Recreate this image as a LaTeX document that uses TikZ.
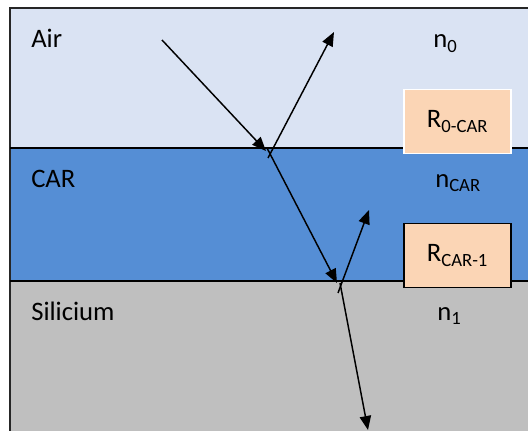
\documentclass[tikz,border=0pt]{standalone}
\usepackage{fontspec}
\setmainfont{Carlito}
\usetikzlibrary{arrows.meta}

\definecolor{airfill}{HTML}{DAE3F3}
\definecolor{carfill}{HTML}{558ED5}
\definecolor{sifill}{HTML}{BFBFBF}
\definecolor{rfill}{HTML}{FBD5B5}

\begin{document}
\begin{tikzpicture}[x=0.75pt,y=0.75pt,yscale=-1,
  layertext/.style={anchor=base west,inner sep=0pt,font=\fontsize{20}{23}\selectfont},
  rbox/.style={fill=rfill,minimum width=80.25pt,minimum height=48pt,inner sep=0pt,line width=1.1pt,font=\fontsize{20}{23}\selectfont},
  ray/.style={line width=1.1pt,-{Triangle[length=10.5pt,width=8.5pt]}},
  border/.style={line width=1.5pt}]
\useasboundingbox (0,0) rectangle (528,431);

%Layers
\fill [airfill] (10,8) rectangle (528,148);
\fill [carfill] (10,148) rectangle (528,281);
\fill [sifill] (10,281) rectangle (528,431);
%Straight Lines
\draw [border,color=black!85] (528,8) -- (10,8) -- (10,431);
%Straight Lines
\draw [border] (10,148) -- (528,148);
%Straight Lines
\draw [border] (10,281) -- (528,281);

% Text Node
\node (air) [layertext] at (31,48) {Air};
% Text Node
\node (car) [layertext] at (31,187) {CAR};
% Text Node
\node (si) [layertext] at (31,320) {Silicium};
% Text Node
\node (nair) [layertext] at (433,48) {n\textsubscript{0}};
% Text Node
\node (ncar) [layertext] at (435,187) {n\textsubscript{CAR}};
% Text Node
\node (nsi) [layertext] at (437,320) {n\textsubscript{1}};

% Reflection boxes
\node (rtop) [rbox,draw=white] at (457.5,121.5) {R\textsubscript{0-CAR}};
\node (rbot) [rbox,draw=black] at (457.5,255.5) {R\textsubscript{CAR-1}};

% Ray points
\coordinate (inc) at (162,40);
\coordinate (hitA) at (266,151);
\coordinate (reflAs) at (268,158);
\coordinate (reflAe) at (334,32);
\coordinate (refrAs) at (267,148);
\coordinate (hitB) at (337,283);
\coordinate (reflBs) at (338,293);
\coordinate (reflBe) at (369,210);
\coordinate (trBs) at (340,283);
\coordinate (trBe) at (368,430);

%Straight Lines
\draw [ray] (inc) -- (hitA);
\draw [ray] (reflAs) -- (reflAe);
\draw [ray] (refrAs) -- (hitB);
\draw [ray] (reflBs) -- (reflBe);
\draw [ray] (trBs) -- (trBe);

\end{tikzpicture}
\end{document}
